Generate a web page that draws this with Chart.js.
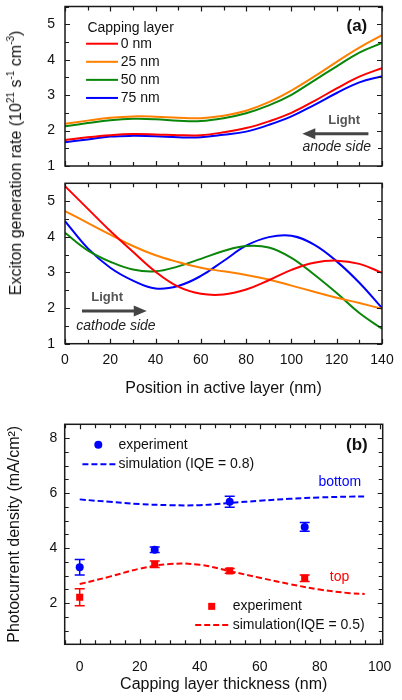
<!DOCTYPE html>
<html>
<head>
<meta charset="utf-8">
<script src="https://cdn.jsdelivr.net/npm/chart.js@4.4.1/dist/chart.umd.min.js"></script>
<style>
  html, body { margin: 0; padding: 0; background: #fff; }
  #wrap { position: relative; width: 402px; height: 700px; overflow: hidden;
          font-family: "Liberation Sans", Arial, Helvetica, sans-serif; }
  canvas { position: absolute; left: 0; }
  #ytA { position: absolute; left: 16px; top: 163px; transform: translate(-50%, -50%) rotate(-90deg);
         white-space: nowrap; font-size: 16px; color: #111; line-height: 1; }
  #ytA sup { font-size: 10px; line-height: 0; vertical-align: 7px; }
</style>
</head>
<body>
<div id="wrap">
  <canvas id="cA1" width="402" height="185" style="top:-10px"></canvas>
  <canvas id="cA2" width="402" height="230" style="top:170px"></canvas>
  <canvas id="cB" width="402" height="300" style="top:400px"></canvas>
  <div id="ytA">Exciton generation rate (10<sup>21</sup> s<sup>-1</sup> cm<sup>-3</sup>)</div>
</div>
<script>
// ---------------- data ----------------
const positionNm = [0, 10, 20, 30, 40, 50, 60, 70, 80, 90, 100, 110, 120, 130, 140];
const capLabels = ['0 nm', '25 nm', '50 nm', '75 nm'];

// panel (a) top: light from anode side
const anode0  = [1.73, 1.81, 1.87, 1.90, 1.89, 1.87, 1.87, 1.95, 2.07, 2.26, 2.50, 2.83, 3.19, 3.52, 3.76];
const anode25 = [2.19, 2.28, 2.36, 2.40, 2.39, 2.36, 2.35, 2.42, 2.56, 2.80, 3.13, 3.52, 3.94, 4.34, 4.69];
const anode50 = [2.12, 2.21, 2.29, 2.33, 2.32, 2.28, 2.27, 2.35, 2.49, 2.71, 3.01, 3.41, 3.81, 4.20, 4.47];
const anode75 = [1.67, 1.75, 1.83, 1.85, 1.84, 1.81, 1.81, 1.88, 1.97, 2.16, 2.40, 2.72, 3.06, 3.36, 3.53];

// panel (a) bottom: light from cathode side
const cathode0  = [5.42, 4.79, 4.16, 3.58, 3.02, 2.60, 2.40, 2.38, 2.52, 2.78, 3.07, 3.27, 3.33, 3.24, 2.99];
const cathode25 = [4.72, 4.39, 4.06, 3.74, 3.48, 3.29, 3.13, 3.03, 2.93, 2.80, 2.63, 2.46, 2.29, 2.14, 1.98];
const cathode50 = [4.11, 3.62, 3.30, 3.08, 3.03, 3.17, 3.38, 3.60, 3.74, 3.70, 3.41, 2.94, 2.42, 1.86, 1.42];
const cathode75 = [4.44, 3.68, 3.13, 2.77, 2.55, 2.62, 2.90, 3.32, 3.75, 3.99, 4.03, 3.78, 3.31, 2.71, 2.00];

// panel (b)
const thicknessExp = [0, 25, 50, 75];
const bottomExp = [3.30, 3.94, 5.68, 4.77];
const bottomErr = [0.28, 0.10, 0.20, 0.16];
const topExp    = [2.21, 3.41, 3.17, 2.90];
const topErr    = [0.31, 0.12, 0.09, 0.12];
const thicknessSim = [0, 10, 20, 30, 40, 50, 60, 70, 80, 90, 95];
const bottomSim = [5.77, 5.68, 5.60, 5.56, 5.56, 5.64, 5.72, 5.79, 5.84, 5.87, 5.87];
const topSim    = [2.69, 2.96, 3.25, 3.42, 3.39, 3.16, 2.92, 2.69, 2.49, 2.36, 2.33];

// tick labels
const ticksPosition = [0, 20, 40, 60, 80, 100, 120, 140];
const ticksRate = [1, 2, 3, 4, 5];
const ticksThickness = [0, 20, 40, 60, 80, 100];
const ticksCurrent = [2, 4, 6, 8];

// ---------------- styling ----------------
const FONT = '"Liberation Sans", Arial, Helvetica, sans-serif';
Chart.defaults.font.family = FONT;
Chart.defaults.font.size = 14;
Chart.defaults.color = '#111';
Chart.defaults.animation = false;
Chart.defaults.plugins.legend.display = false;
Chart.defaults.plugins.tooltip.enabled = false;

const capColors = ['#ff0000', '#ff8000', '#0a870a', '#0000ff'];
const RED = '#ff0000', BLUE = '#0000ff';

const xy = (xs, ys) => xs.map((x, i) => ({x: x, y: ys[i]}));
const fixedTicks = arr => (s => { s.ticks = arr.map(v => ({value: v})); });
const range = (a, b, st) => { const r = []; for (let v = a; v <= b + 1e-9; v += st) r.push(+v.toFixed(4)); return r; };

const frameTicks = {
  id: 'frameTicks',
  afterDraw(chart, args, o) {
    const {ctx, chartArea: a} = chart;
    const xs = chart.scales.x, ys = chart.scales.y;
    ctx.save();
    ctx.strokeStyle = '#1a1a1a';
    ctx.lineWidth = 1.2;
    ctx.beginPath();
    const xt = (vals, len) => vals.forEach(v => {
      const p = Math.round(xs.getPixelForValue(v)) + 0.5;
      ctx.moveTo(p, a.bottom); ctx.lineTo(p, a.bottom - len);
      ctx.moveTo(p, a.top); ctx.lineTo(p, a.top + len);
    });
    const yt = (vals, len) => vals.forEach(v => {
      const p = Math.round(ys.getPixelForValue(v)) + 0.5;
      ctx.moveTo(a.left, p); ctx.lineTo(a.left + len, p);
      ctx.moveTo(a.right, p); ctx.lineTo(a.right - len, p);
    });
    const minors = (all, majors) => all.filter(v => !majors.some(m => Math.abs(m - v) < 1e-6));
    xt(o.xMajor, 5);
    xt(minors(range(o.xMin, o.xMax, o.xStep), o.xMajor), 4);
    yt(o.yMajor, 5);
    yt(minors(range(o.yMin, o.yMax, o.yStep), o.yMajor), 4);
    ctx.stroke();
    ctx.lineWidth = 1.5;
    ctx.strokeRect(a.left, a.top, a.right - a.left, a.bottom - a.top);
    ctx.restore();
  }
};

function txt(ctx, s, x, y, font, color, align) {
  ctx.font = font; ctx.fillStyle = color; ctx.textAlign = align || 'left'; ctx.textBaseline = 'middle';
  ctx.fillText(s, x, y);
}
function arrow(ctx, x1, x2, y, color) {
  const dir = Math.sign(x2 - x1), head = 13;
  ctx.strokeStyle = color; ctx.fillStyle = color; ctx.lineWidth = 3;
  ctx.beginPath(); ctx.moveTo(x1, y); ctx.lineTo(x2 - dir * head * 0.8, y); ctx.stroke();
  ctx.beginPath(); ctx.moveTo(x2, y); ctx.lineTo(x2 - dir * head, y - 5.5); ctx.lineTo(x2 - dir * head, y + 5.5);
  ctx.closePath(); ctx.fill();
}
function hline(ctx, x1, x2, y, color, dash) {
  ctx.save(); ctx.strokeStyle = color; ctx.lineWidth = 2; ctx.setLineDash(dash || []);
  ctx.beginPath(); ctx.moveTo(x1, y); ctx.lineTo(x2, y); ctx.stroke(); ctx.restore();
}

function curveSets(series) {
  return series.map((ys, i) => ({
    label: capLabels[i], data: xy(positionNm, ys), borderColor: capColors[i],
    borderWidth: 2, pointRadius: 0, tension: 0.4, fill: false
  }));
}

function yAxisA(width) {
  return {
    type: 'linear', min: 1, max: 5.5, bounds: 'data',
    afterBuildTicks: fixedTicks(ticksRate),
    ticks: {padding: 0, autoSkip: false, font: {size: 14}, color: '#111'},
    grid: {display: false, drawTicks: true, tickLength: 10},
    border: {display: false},
    afterFit: s => { s.width = width; }
  };
}

// ---------------- panel (a) top ----------------
const annA1 = {
  id: 'annA1',
  afterDraw(chart) {
    const {ctx} = chart; const X = v => chart.scales.x.getPixelForValue(v), Y = v => chart.scales.y.getPixelForValue(v);
    ctx.save();
    txt(ctx, 'Capping layer', X(9.9), Y(4.90), '14px ' + FONT, '#111');
    const ly = [4.45, 3.94, 3.43, 2.92];
    capLabels.forEach((l, i) => {
      hline(ctx, X(9.3), X(23.4), Y(ly[i]), capColors[i]);
      txt(ctx, l, X(24.6), Y(ly[i]), '14px ' + FONT, '#111');
    });
    txt(ctx, '(a)', X(133.5), Y(4.95), 'bold 17px ' + FONT, '#111', 'right');
    txt(ctx, 'Light', X(123.3), Y(2.28), 'bold 13px ' + FONT, '#555', 'center');
    arrow(ctx, X(134), X(104.8), Y(1.91), '#444');
    txt(ctx, 'anode side', X(120), Y(1.53), 'italic 14px ' + FONT, '#222', 'center');
    ctx.restore();
  }
};

new Chart(document.getElementById('cA1'), {
  type: 'line',
  data: {datasets: curveSets([anode0, anode25, anode50, anode75])},
  options: {
    responsive: false,
    layout: {padding: {left: 0, right: 20, top: 16.5, bottom: 9}},
    scales: {
      x: {type: 'linear', display: false, min: 0, max: 140, bounds: 'data'},
      y: yAxisA(65)
    },
    plugins: {frameTicks: {xMajor: ticksPosition, xMin: 0, xMax: 140, xStep: 10,
                           yMajor: ticksRate, yMin: 1, yMax: 5.5, yStep: 0.5}}
  },
  plugins: [frameTicks, annA1]
});

// ---------------- panel (a) bottom ----------------
const annA2 = {
  id: 'annA2',
  afterDraw(chart) {
    const {ctx} = chart; const X = v => chart.scales.x.getPixelForValue(v), Y = v => chart.scales.y.getPixelForValue(v);
    ctx.save();
    txt(ctx, 'Light', X(18.6), Y(2.29), 'bold 13px ' + FONT, '#555', 'center');
    arrow(ctx, X(7.5), X(36.1), Y(1.92), '#444');
    txt(ctx, 'cathode side', X(22.5), Y(1.48), 'italic 14px ' + FONT, '#222', 'center');
    ctx.restore();
  }
};

new Chart(document.getElementById('cA2'), {
  type: 'line',
  data: {datasets: curveSets([cathode0, cathode25, cathode50, cathode75])},
  options: {
    responsive: false,
    layout: {padding: {left: 0, right: 20, top: 13.3, bottom: 0}},
    scales: {
      x: {
        type: 'linear', min: 0, max: 140, bounds: 'data',
        afterBuildTicks: fixedTicks(ticksPosition),
        ticks: {padding: 0, autoSkip: false, maxRotation: 0, font: {size: 14}, color: '#111'},
        grid: {display: false, drawTicks: true, tickLength: 8.2},
        border: {display: false},
        title: {display: true, text: 'Position in active layer (nm)', font: {size: 16}, color: '#111',
                padding: {top: 0, bottom: 2.1}},
        afterFit: s => { s.height = 56.3; }
      },
      y: yAxisA(65)
    },
    plugins: {frameTicks: {xMajor: ticksPosition, xMin: 0, xMax: 140, xStep: 10,
                           yMajor: ticksRate, yMin: 1, yMax: 5.5, yStep: 0.5}}
  },
  plugins: [frameTicks, annA2]
});

// ---------------- panel (b) ----------------
const errorBars = {
  id: 'errorBars',
  beforeDatasetsDraw(chart) {
    const {ctx} = chart; const xs = chart.scales.x, ys = chart.scales.y;
    ctx.save();
    chart.data.datasets.forEach(ds => {
      if (!ds.errors) return;
      ctx.strokeStyle = ds.borderColor; ctx.lineWidth = 1.5;
      ds.data.forEach((p, i) => {
        const e = ds.errors[i], px = xs.getPixelForValue(p.x);
        const y1 = ys.getPixelForValue(p.y + e), y2 = ys.getPixelForValue(p.y - e);
        ctx.beginPath();
        ctx.moveTo(px, y1); ctx.lineTo(px, y2);
        ctx.moveTo(px - 5, y1); ctx.lineTo(px + 5, y1);
        ctx.moveTo(px - 5, y2); ctx.lineTo(px + 5, y2);
        ctx.stroke();
      });
    });
    ctx.restore();
  }
};

const annB = {
  id: 'annB',
  afterDraw(chart) {
    const {ctx} = chart; const X = v => chart.scales.x.getPixelForValue(v), Y = v => chart.scales.y.getPixelForValue(v);
    const f = '14px ' + FONT;
    ctx.save();
    ctx.fillStyle = BLUE; ctx.beginPath(); ctx.arc(X(6.2), Y(7.76), 4, 0, Math.PI * 2); ctx.fill();
    txt(ctx, 'experiment', X(12.9), Y(7.76), f, '#111');
    hline(ctx, X(0.9), X(11.9), Y(7.05), BLUE, [6, 3]);
    txt(ctx, 'simulation (IQE = 0.8)', X(12.9), Y(7.05), f, '#111');
    ctx.fillStyle = RED; ctx.fillRect(X(44.0) - 3.5, Y(1.88) - 3.5, 7, 7);
    txt(ctx, 'experiment', X(51.0), Y(1.88), f, '#111');
    hline(ctx, X(38.5), X(49.5), Y(1.2), RED, [6, 3]);
    txt(ctx, 'simulation(IQE = 0.5)', X(51.0), Y(1.2), f, '#111');
    txt(ctx, '(b)', X(96.0), Y(7.72), 'bold 17px ' + FONT, '#111', 'right');
    txt(ctx, 'bottom', X(86.7), Y(6.4), f, BLUE, 'center');
    txt(ctx, 'top', X(86.6), Y(2.96), f, RED, 'center');
    ctx.restore();
  }
};

new Chart(document.getElementById('cB'), {
  type: 'line',
  data: {datasets: [
    {label: 'simulation bottom', data: xy(thicknessSim, bottomSim), borderColor: BLUE, borderWidth: 2,
     borderDash: [6, 3], pointRadius: 0, tension: 0.4},
    {label: 'simulation top', data: xy(thicknessSim, topSim), borderColor: RED, borderWidth: 2,
     borderDash: [6, 3], pointRadius: 0, tension: 0.4},
    {label: 'experiment bottom', data: xy(thicknessExp, bottomExp), errors: bottomErr, showLine: false,
     borderColor: BLUE, backgroundColor: BLUE, pointStyle: 'circle', pointRadius: 4, pointBorderWidth: 0},
    {label: 'experiment top', data: xy(thicknessExp, topExp), errors: topErr, showLine: false,
     borderColor: RED, backgroundColor: RED, pointStyle: 'rect', pointRadius: 5, pointBorderWidth: 0}
  ]},
  options: {
    responsive: false,
    layout: {padding: {left: 0, right: 19.3, top: 24.3, bottom: 0}},
    scales: {
      x: {
        type: 'linear', min: -5, max: 101, bounds: 'data',
        afterBuildTicks: fixedTicks(ticksThickness),
        ticks: {padding: 0, autoSkip: false, maxRotation: 0, font: {size: 14}, color: '#111'},
        grid: {display: false, drawTicks: true, tickLength: 14.6},
        border: {display: false},
        title: {display: true, text: 'Capping layer thickness (nm)', font: {size: 16}, color: '#111',
                padding: {top: 0, bottom: 5.4}},
        afterFit: s => { s.height = 55.7; }
      },
      y: {
        type: 'linear', min: 0.5, max: 8.5, bounds: 'data',
        afterBuildTicks: fixedTicks(ticksCurrent),
        ticks: {padding: 0, autoSkip: false, font: {size: 14}, color: '#111'},
        grid: {display: false, drawTicks: true, tickLength: 7.4},
        border: {display: false},
        title: {display: true, text: 'Photocurrent density (mA/cm²)', font: {size: 16}, color: '#111',
                padding: {top: 5.4, bottom: 0}},
        afterFit: s => { s.width = 64.7; }
      }
    },
    plugins: {frameTicks: {xMajor: ticksThickness, xMin: -5, xMax: 101, xStep: 5,
                           yMajor: ticksCurrent, yMin: 0.5, yMax: 8.5, yStep: 0.5}}
  },
  plugins: [frameTicks, errorBars, annB]
});
</script>
</body>
</html>
